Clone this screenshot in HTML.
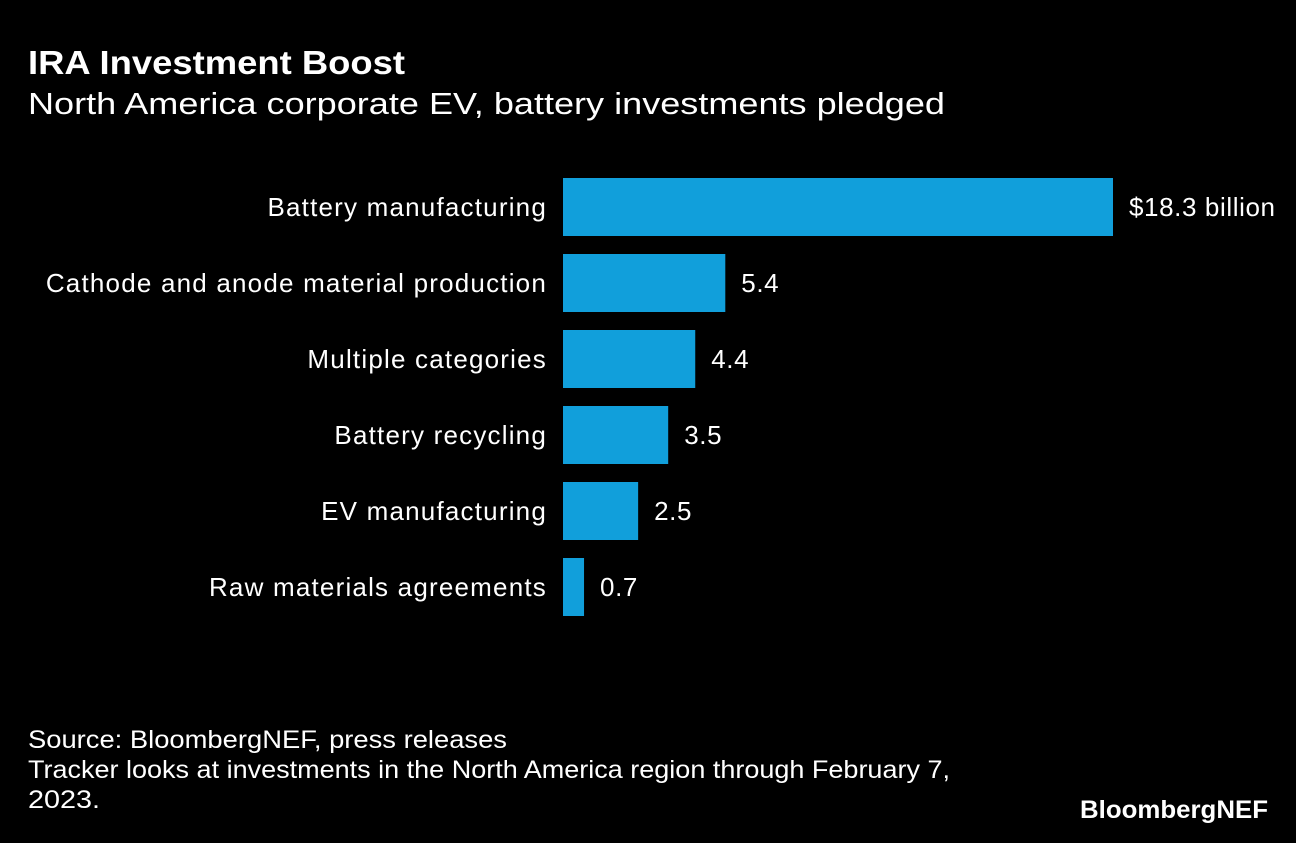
<!DOCTYPE html>
<html><head><meta charset="utf-8"><style>
body{margin:0;background:#000;width:1296px;height:838px;overflow:hidden;font-family:"Liberation Sans",Arial,sans-serif;color:#fff}
</style></head><body>
<svg width="1296" height="838" xmlns="http://www.w3.org/2000/svg">
<rect width="1296" height="838" fill="#000"/>
<text x="28" y="74" font-size="33" font-weight="bold" fill="#fff" textLength="377" lengthAdjust="spacingAndGlyphs">IRA Investment Boost</text>
<text x="28" y="114" font-size="31" fill="#fff" textLength="917" lengthAdjust="spacingAndGlyphs">North America corporate EV, battery investments pledged</text>
<g id="bars"></g>
<text x="28" y="748" font-size="25" fill="#fff" textLength="479" lengthAdjust="spacingAndGlyphs">Source: BloombergNEF, press releases</text>
<text x="28" y="778" font-size="25" fill="#fff" textLength="922" lengthAdjust="spacingAndGlyphs">Tracker looks at investments in the North America region through February 7,</text>
<text x="28" y="808" font-size="25" fill="#fff" textLength="72" lengthAdjust="spacingAndGlyphs">2023.</text>
<text x="1080" y="818" font-size="25" font-weight="bold" fill="#fff" textLength="188" lengthAdjust="spacingAndGlyphs">BloombergNEF</text>
</svg>
<script>
const categories=["Battery manufacturing","Cathode and anode material production","Multiple categories","Battery recycling","EV manufacturing","Raw materials agreements"];
const values=[18.3,5.4,4.4,3.5,2.5,0.7];
const valueLabels=["$18.3 billion","5.4","4.4","3.5","2.5","0.7"];
const x0=563,pxPerUnit=550/18.3,top0=178,step=76,bh=58;
const xs=v=>x0+v*pxPerUnit, ys=i=>top0+i*step;
const g=document.getElementById('bars');const NS="http://www.w3.org/2000/svg";
categories.forEach((c,i)=>{
 const r=document.createElementNS(NS,'rect');
 r.setAttribute('x',x0);r.setAttribute('y',ys(i));r.setAttribute('width',xs(values[i])-x0);r.setAttribute('height',bh);r.setAttribute('fill','#119fdb');
 
 
 g.appendChild(r);
 const t=document.createElementNS(NS,'text');
 t.setAttribute('x',547);t.setAttribute('y',ys(i)+bh/2+9);t.setAttribute('text-anchor','end');t.setAttribute('font-size','26');t.setAttribute('letter-spacing','1.2');t.setAttribute('fill','#fff');t.textContent=c;
 
 
 g.appendChild(t);
 const v=document.createElementNS(NS,'text');
 v.setAttribute('x',xs(values[i])+16);v.setAttribute('y',ys(i)+bh/2+9);v.setAttribute('font-size','26');v.setAttribute('letter-spacing','0.6');v.setAttribute('fill','#fff');v.textContent=valueLabels[i];
 
 
 g.appendChild(v);
});
</script>
</body></html>
